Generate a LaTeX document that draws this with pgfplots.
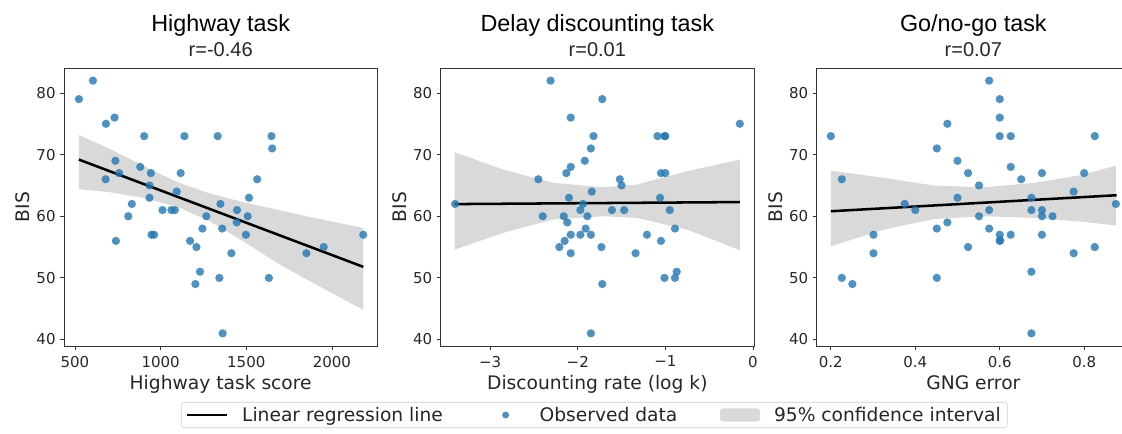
\documentclass[border=0pt]{standalone}
\usepackage{pgfplots}
\pgfplotsset{compat=1.18}
\usepackage{fontspec}
\setmainfont{DejaVu Sans}
\newfontfamily\lib{Liberation Sans}
\definecolor{c0}{HTML}{1F77B4}
\definecolor{spine}{HTML}{333333}
\definecolor{txt}{HTML}{262626}

\pgfplotsset{
  panel/.style={
    scale only axis, width=235pt, height=208.5pt, anchor=south west,
    ymin=38.95, ymax=84.05,
    ytick={40,50,60,70,80}, yticklabels={40,50,60,70,80},
    axis line style={spine, line width=0.6pt},
    tick style={spine, line width=0.6pt},
    major tick length=2.8pt, tick align=outside,
    xtick pos=left, ytick pos=left,
    tick label style={font=\fontsize{11.25}{13}\selectfont, text=txt},
    xticklabel style={yshift=-1.2pt},
    ylabel={BIS},
    every axis y label/.style={at={([xshift=-31pt]axis description cs:0,0.5)}, rotate=90, anchor=center, font=\fontsize{14}{16}\selectfont, text=txt},
    every axis x label/.style={at={([yshift=-32.5pt]axis description cs:0.5,0)}, anchor=base, font=\fontsize{14}{16}\selectfont, text=txt},
    clip=false,
  },
  pts/.style={only marks, mark=*, color=c0, mark size=3.1pt, mark options={draw opacity=0, fill=c0, fill opacity=0.8}, forget plot},
  band/.style={fill=black!15, draw=none, forget plot},
  reg/.style={black, line width=1.9pt, forget plot},
}

\newcommand{\ttl}[2]{%
  \node[anchor=base, font=\lib\fontsize{17.5}{20}\selectfont] at ([yshift=27.25pt]rel axis cs:0.5,1) {#1};
  \node[anchor=base, font=\lib\fontsize{15}{17}\selectfont, text=txt] at ([yshift=8.5pt]rel axis cs:0.5,1) {#2};
}

\begin{document}
\begin{tikzpicture}
\path[use as bounding box] (0,0) rectangle (841.5pt,324.75pt);

% ---------------- Panel 1 ----------------
\begin{axis}[panel, at={(48pt,65.25pt)},
  xmin=436, xmax=2265,
  xtick={500,1000,1500,2000}, xticklabels={500,1000,1500,2000},
  xlabel={Highway task score}]
\addplot[band] coordinates {
 (523,73.2) (704,70.9) (898,68.2) (1092,65.6) (1286,63.7) (1480,62.3) (1675,61.1) (1869,59.9) (2183,58.1)
 (2183,44.8) (1869,49.5) (1675,52.5) (1480,56.0) (1286,59.2) (1092,61.6) (898,63.0) (704,63.9) (523,64.4)
} -- cycle;
\addplot[pts] table {
x y
523 79
605 82
681 75
731 76
736 69
679 66
758 67
739 56
832 62
811 60
904 73
881 68
943 67
935 65
935 63
947 57
962 57
1011 61
1063 61
1083 61
1094 64
1117 67
1139 73
1172 56
1209 55
1203 49
1230 51
1244 58
1267 60
1333 73
1343 50
1349 62
1359 58
1362 41
1413 54
1446 61
1444 59
1498 57
1508 60
1516 63
1564 66
1632 50
1647 73
1651 71
1851 54
1952 55
2183 57
};
\addplot[reg] coordinates {(523,69.19) (2183,51.79)};
\ttl{Highway task}{r=-0.46}
\end{axis}

% ---------------- Panel 2 ----------------
\begin{axis}[panel, at={(330.5pt,65.25pt)},
  xmin=-3.565, xmax=0.012,
  xtick={-3,-2,-1,0}, xticklabels={−3,−2,−1,0},
  xlabel={Discounting rate (log k)},
  legend columns=3, legend cell align=left,
  legend style={
    at={(axis description cs:0.491,-0.2482)}, anchor=center,
    draw=black!20, rounded corners=2pt, fill=white,
    font=\fontsize{14}{16}\selectfont, text=txt,
    inner xsep=3pt, inner ysep=1.5pt,
    nodes={inner sep=2pt},
    /tikz/every odd column/.append style={column sep=8.5pt},
    /tikz/every even column/.append style={column sep=30pt},
  }]
\addlegendimage{draw=none, legend image code/.code={\draw[black, line width=1.9pt] (0pt,0pt) -- (30pt,0pt);}}
\addlegendimage{draw=none, legend image code/.code={\path[draw=none] (0pt,0pt) -- (30pt,0pt); \fill[c0, fill opacity=0.8, draw=none] (15pt,0pt) circle (2.6pt);}}
\addlegendimage{draw=none, legend image code/.code={\fill[black!15, draw=none] (0pt,-5pt) rectangle (30pt,5pt);}}
\addplot[band] coordinates {
 (-3.405,70.38) (-2.851,67.57) (-2.279,65.41) (-1.706,64.70) (-1.324,65.14) (-0.752,67.30) (-0.149,69.19)
 (-0.149,54.49) (-0.752,57.84) (-1.324,59.73) (-1.706,60.0) (-2.279,59.46) (-2.851,57.30) (-3.405,54.59)
} -- cycle;
\addplot[pts] table {
x y
-3.40 62
-2.45 66
-2.40 60
-2.31 82
-2.21 55
-2.16 60
-2.15 56
-2.12 59
-2.13 67
-2.10 63
-2.08 68
-2.08 76
-2.08 57
-2.08 54
-1.97 57
-1.97 61
-1.94 62
-1.92 69
-1.91 58
-1.89 60
-1.85 57
-1.85 41
-1.85 71
-1.84 64
-1.82 73
-1.72 79
-1.73 55
-1.72 49
-1.61 61
-1.52 66
-1.50 65
-1.47 61
-1.34 54
-1.21 57
-1.09 73
-1.06 63
-1.05 56
-1.05 67
-1.01 73
-1.00 73
-1.00 67
-1.01 50
-0.95 61
-0.89 58
-0.89 50
-0.87 51
-0.15 75
};
\addplot[reg] coordinates {(-3.405,61.97) (-0.149,62.30)};
\ttl{Delay discounting task}{r=0.01}
\legend{Linear regression line, Observed data, 95\% confidence interval}
\end{axis}

% ---------------- Panel 3 ----------------
\begin{axis}[panel, at={(612.5pt,65.25pt)},
  xmin=0.1665, xmax=0.9085,
  xtick={0.2,0.4,0.6,0.8}, xticklabels={0.2,0.4,0.6,0.8},
  xlabel={GNG error}]
\addplot[band] coordinates {
 (0.200,67.41) (0.326,66.22) (0.445,64.97) (0.563,64.70) (0.682,65.41) (0.800,66.76) (0.875,68.22)
 (0.875,58.49) (0.800,59.08) (0.682,59.73) (0.563,60.0) (0.445,59.57) (0.326,57.84) (0.200,55.14)
} -- cycle;
\addplot[pts] table {
x y
0.200 73
0.226 66
0.226 50
0.251 49
0.301 57
0.301 54
0.375 62
0.400 61
0.451 71
0.451 58
0.451 50
0.476 75
0.476 59
0.500 69
0.500 63
0.525 67
0.525 55
0.551 65
0.551 60
0.575 82
0.575 61
0.575 58
0.600 79
0.600 76
0.600 73
0.600 57
0.600 56
0.601 56.1
0.626 73
0.626 68
0.626 57
0.651 66
0.675 63
0.675 61
0.675 51
0.675 41
0.700 67
0.700 61
0.700 60
0.700 57
0.725 60
0.775 64
0.775 54
0.800 67
0.825 73
0.825 55
0.875 62
};
\addplot[reg] coordinates {(0.200,60.81) (0.877,63.41)};
\ttl{Go/no-go task}{r=0.07}
\end{axis}
\end{tikzpicture}
\end{document}
